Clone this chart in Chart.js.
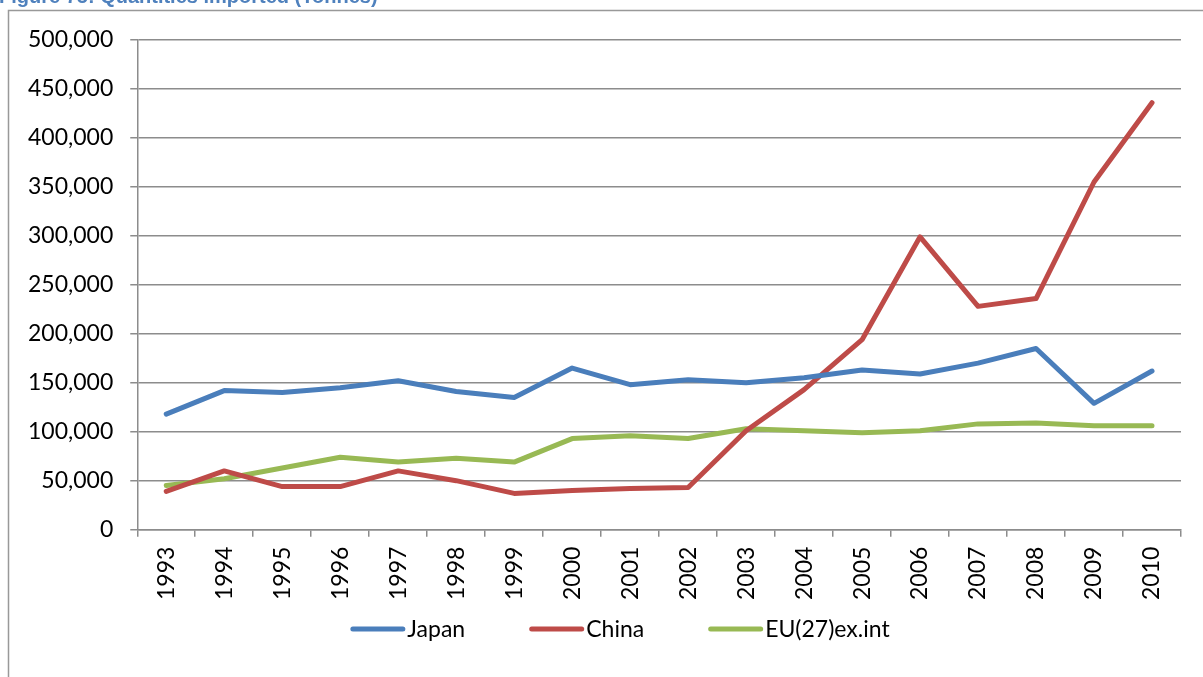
<!DOCTYPE html>
<html>
<head>
<meta charset="utf-8">
<script src="https://cdn.jsdelivr.net/npm/chart.js@4.4.1/dist/chart.umd.min.js"></script>
<style>
  html, body { margin: 0; padding: 0; background: #fff; }
  #wrap { position: relative; width: 1203px; height: 677px; }
</style>
</head>
<body>
<div id="wrap"><canvas id="importsChart" width="1203" height="677"></canvas></div>
<script>
  // Quantities imported, tonnes per year
  const years = ['1993', '1994', '1995', '1996', '1997', '1998', '1999', '2000', '2001',
                 '2002', '2003', '2004', '2005', '2006', '2007', '2008', '2009', '2010'];
  const japan = [118000, 142000, 140000, 145000, 152000, 141000, 135000, 165000, 148000,
                 153000, 150000, 155000, 163000, 159000, 170000, 185000, 129000, 162000];
  const china = [39000, 60000, 44000, 44000, 60000, 50000, 37000, 40000, 42000,
                 43000, 101000, 143000, 194000, 299000, 228000, 236000, 355000, 436000];
  const euExInt = [45000, 52000, 63000, 74000, 69000, 73000, 69000, 93000, 96000,
                   93000, 103000, 101000, 99000, 101000, 108000, 109000, 106000, 106000];
  const yMax = 500000;
  const yStep = 50000;

  const axisGray = '#8c8c8c';
  const labelFont = { family: 'Lato', size: 23 };

  // page frame + caption that sits above it
  const framePlugin = {
    id: 'frame',
    beforeDraw(chart) {
      const ctx = chart.ctx;
      ctx.save();
      ctx.fillStyle = '#fff';
      ctx.fillRect(0, 0, chart.width, chart.height);
      ctx.strokeStyle = '#999';
      ctx.lineWidth = 1.5;
      ctx.beginPath();
      ctx.moveTo(8.5, chart.height);
      ctx.lineTo(8.5, 10.5);
      ctx.lineTo(chart.width, 10.5);
      ctx.stroke();
      ctx.font = 'bold 20px "Liberation Sans"';
      ctx.fillStyle = '#4F81BD';
      ctx.textBaseline = 'alphabetic';
      ctx.fillText('Figure 75: Quantities imported (Tonnes)', -1, 3);
      ctx.restore();
    }
  };

  // line-swatch legend, built from the datasets
  const lineLegend = {
    id: 'lineLegend',
    afterDraw(chart, args, opts) {
      const ctx = chart.ctx;
      ctx.save();
      ctx.font = opts.font;
      const items = chart.data.datasets.map(ds => ({
        text: ds.label, color: ds.borderColor, w: ctx.measureText(ds.label).width
      }));
      const total = items.reduce((s, it) => s + opts.lineLength + opts.textGap + it.w, 0)
        + opts.itemGap * (items.length - 1);
      let x = opts.centerX - total / 2;
      items.forEach(it => {
        ctx.strokeStyle = it.color;
        ctx.lineWidth = 5;
        ctx.lineCap = 'round';
        ctx.beginPath();
        ctx.moveTo(x + 2.5, opts.y);
        ctx.lineTo(x + opts.lineLength - 2.5, opts.y);
        ctx.stroke();
        ctx.fillStyle = '#000';
        ctx.textBaseline = 'middle';
        ctx.fillText(it.text, x + opts.lineLength + opts.textGap, opts.y + 1);
        x += opts.lineLength + opts.textGap + it.w + opts.itemGap;
      });
      ctx.restore();
    }
  };

  new Chart(document.getElementById('importsChart'), {
    type: 'line',
    data: {
      labels: years,
      datasets: [
        { label: 'Japan', data: japan, borderColor: '#4A7EBB' },
        { label: 'China', data: china, borderColor: '#BE4B48' },
        { label: 'EU(27)ex.int', data: euExInt, borderColor: '#98B954' }
      ]
    },
    options: {
      responsive: false,
      animation: false,
      layout: { padding: { top: 40, right: 22, bottom: 67, left: 11 } },
      elements: {
        line: { borderWidth: 5, tension: 0, borderCapStyle: 'round', borderJoinStyle: 'round' },
        point: { radius: 0, hoverRadius: 0 }
      },
      plugins: {
        legend: { display: false },
        tooltip: { enabled: false },
        lineLegend: { font: '23px Lato', lineLength: 55, textGap: 2, itemGap: 64, centerX: 620, y: 629 }
      },
      scales: {
        x: {
          offset: true,
          grid: { offset: true, drawOnChartArea: false, tickLength: 7, color: axisGray, lineWidth: 1.5 },
          border: { color: axisGray, width: 1.5 },
          ticks: { autoSkip: false, minRotation: 90, maxRotation: 90, padding: 10, color: '#000', font: labelFont }
        },
        y: {
          min: 0,
          max: yMax,
          grid: { tickLength: 7, color: axisGray, lineWidth: 1.5 },
          border: { color: axisGray, width: 1.5 },
          ticks: {
            stepSize: yStep,
            padding: 17,
            color: '#000',
            font: labelFont,
            callback: v => v.toLocaleString('en-US')
          }
        }
      }
    },
    plugins: [framePlugin, lineLegend]
  });
</script>
</body>
</html>
